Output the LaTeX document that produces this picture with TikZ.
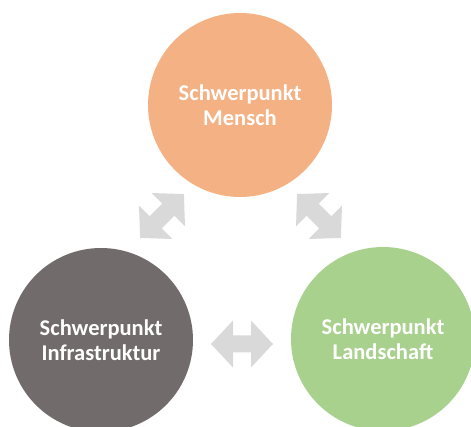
\documentclass[tikz,border=0pt]{standalone}
\usepackage{fontspec}
\setmainfont{Carlito}
\definecolor{cOrange}{HTML}{F4B183}
\definecolor{cGray}{HTML}{716C6B}
\definecolor{cGreen}{HTML}{A9D18E}
\definecolor{cArrow}{HTML}{D9D9D9}
\begin{document}
\begin{tikzpicture}[x=1pt,y=-1pt,
  bubble/.style={circle, minimum size=184pt, inner sep=0pt, align=center,
    text=white, font=\fontsize{22.5}{25}\selectfont\bfseries},
  dblarrow/.pic={\fill[cArrow] (-31,0) -- (-9,-23.5) -- (-9,-8.5) -- (9,-8.5) -- (9,-23.5)
      -- (31,0) -- (9,23.5) -- (9,8.5) -- (-9,8.5) -- (-9,23.5) -- cycle;}]
\useasboundingbox (0,0) rectangle (471,427);
\clip (0,0) rectangle (471,427);
\node[bubble, fill=cOrange] (mensch) at (240,105) {Schwerpunkt\\Mensch};
\node[bubble, fill=cGray] (infra) at (101,340) {Schwerpunkt\\Infrastruktur};
\node[bubble, fill=cGreen] (land) at (383,339) {Schwerpunkt\\Landschaft};
\pic[rotate=45] at (162,216) {dblarrow};
\pic[rotate=-45] at (319,216) {dblarrow};
\pic at (242,344) {dblarrow};
\end{tikzpicture}
\end{document}
